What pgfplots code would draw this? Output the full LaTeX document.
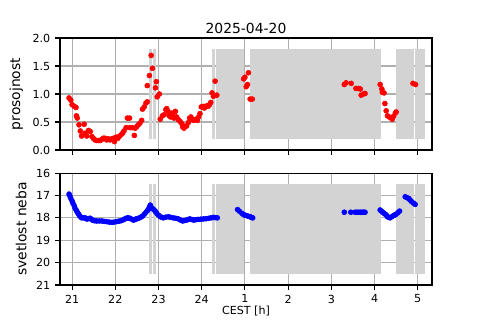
\documentclass[border=0pt]{standalone}
\usepackage{fontspec}
\setmainfont{DejaVu Sans}
\usepackage{pgfplots}
\pgfplotsset{compat=1.18}
\definecolor{mplgrid}{HTML}{B0B0B0}
\definecolor{band}{HTML}{D3D3D3}
\pgfplotsset{
  common/.style={
    scale only axis, width=267.84pt, height=80.6pt,
    xmin=20.72, xmax=29.33,
    xtick={21,22,23,24,25,26,27,28,29},
    grid=major, grid style={color=mplgrid, line width=0.8pt},
    axis line style={line width=0.8pt},
    every tick/.style={black, line width=0.8pt},
    tick align=outside, major tick length=3.5pt,
    xtick pos=bottom, ytick pos=left,
    tick label style={font=\fontsize{8}{9.6}\selectfont},
    label style={font=\fontsize{10}{12}\selectfont},
    /pgf/number format/assume math mode=true,
    axis on top=false,
  },
  bandstyle/.style={fill=band, draw=none, forget plot},
  dots/.style={only marks, mark=*, mark size=1.8pt},
}
\begin{document}
\begin{tikzpicture}
\useasboundingbox (0,0) rectangle (345.6pt,230.4pt);
\begin{axis}[common, at={(43.2pt,122.4pt)}, anchor=south west,
  ymin=0, ymax=2, ytick={0,0.5,1,1.5,2},
  yticklabel style={/pgf/number format/.cd, fixed, fixed zerofill, precision=1},
  xticklabels={},
  ylabel={prosojnost},
  title={2025-04-20}, title style={font=\fontsize{10}{12}\selectfont, yshift=-6.5pt},
]
\addplot[bandstyle] coordinates {(22.78,0.2) (22.84,0.2) (22.84,1.8) (22.78,1.8)} --cycle;
\addplot[bandstyle] coordinates {(22.87,0.2) (22.94,0.2) (22.94,1.8) (22.87,1.8)} --cycle;
\addplot[bandstyle] coordinates {(24.23,0.2) (24.31,0.2) (24.31,1.8) (24.23,1.8)} --cycle;
\addplot[bandstyle] coordinates {(24.34,0.2) (24.98,0.2) (24.98,1.8) (24.34,1.8)} --cycle;
\addplot[bandstyle] coordinates {(25.12,0.2) (28.15,0.2) (28.15,1.8) (25.12,1.8)} --cycle;
\addplot[bandstyle] coordinates {(28.50,0.2) (28.91,0.2) (28.91,1.8) (28.50,1.8)} --cycle;
\addplot[bandstyle] coordinates {(28.94,0.2) (29.17,0.2) (29.17,1.8) (28.94,1.8)} --cycle;
\addplot[dots, color=red] table {
20.93 0.93
20.97 0.89
21.00 0.81
21.05 0.78
21.09 0.76
21.10 0.61
21.12 0.57
21.16 0.45
21.19 0.34
21.22 0.25
21.28 0.46
21.30 0.30
21.34 0.25
21.38 0.35
21.42 0.33
21.46 0.24
21.49 0.21
21.53 0.18
21.57 0.17
21.61 0.17
21.65 0.17
21.69 0.19
21.72 0.21
21.76 0.21
21.80 0.18
21.84 0.20
21.88 0.18
21.92 0.20
21.96 0.21
21.98 0.15
22.02 0.23
22.06 0.21
22.09 0.24
22.13 0.27
22.17 0.30
22.20 0.34
22.25 0.40
22.28 0.57
22.33 0.57
22.34 0.40
22.39 0.40
22.44 0.26
22.46 0.39
22.50 0.42
22.53 0.45
22.57 0.48
22.61 0.53
22.63 0.73
22.67 0.77
22.71 0.84
22.74 0.86
22.74 1.15
22.79 1.33
22.83 1.69
22.86 1.46
22.93 1.11
22.95 1.22
22.97 0.95
23.02 1.00
23.04 0.55
23.09 0.61
23.13 0.63
23.17 0.72
23.19 0.74
23.22 0.69
23.25 0.61
23.28 0.59
23.31 0.66
23.34 0.61
23.36 0.57
23.39 0.69
23.42 0.59
23.46 0.54
23.50 0.51
23.54 0.47
23.56 0.41
23.59 0.39
23.62 0.42
23.65 0.43
23.69 0.49
23.72 0.57
23.75 0.59
23.78 0.55
23.81 0.53
23.84 0.54
23.87 0.55
23.90 0.53
23.93 0.59
23.96 0.65
23.99 0.77
24.03 0.78
24.06 0.75
24.09 0.77
24.12 0.79
24.15 0.78
24.18 0.81
24.21 0.85
24.24 1.02
24.27 0.96
24.31 1.23
24.35 0.98
24.97 1.27
25.00 1.30
25.08 1.38
25.03 1.13
25.06 1.17
25.12 0.91
25.17 0.91
27.30 1.17
27.34 1.20
27.46 1.19
27.57 1.10
27.63 1.10
27.67 1.09
27.69 0.98
27.74 1.00
27.78 1.01
28.13 1.17
28.17 1.09
28.18 1.03
28.22 1.02
28.24 0.83
28.27 0.70
28.30 0.61
28.34 0.59
28.38 0.57
28.41 0.55
28.44 0.60
28.48 0.66
28.50 0.68
28.89 1.19
28.95 1.17
};
\end{axis}
\begin{axis}[common, at={(43.2pt,25.2pt)}, anchor=south west,
  ymin=16, ymax=21, ytick={16,17,18,19,20,21}, y dir=reverse,
  xticklabels={21,22,23,24,1,2,3,4,5},
  ylabel={svetlost neba},
  xlabel={CEST [h]}, xlabel style={font=\fontsize{8}{9.6}\selectfont, yshift=4.5pt},
]
\addplot[bandstyle] coordinates {(22.78,16.5) (22.84,16.5) (22.84,20.5) (22.78,20.5)} --cycle;
\addplot[bandstyle] coordinates {(22.87,16.5) (22.94,16.5) (22.94,20.5) (22.87,20.5)} --cycle;
\addplot[bandstyle] coordinates {(24.23,16.5) (24.31,16.5) (24.31,20.5) (24.23,20.5)} --cycle;
\addplot[bandstyle] coordinates {(24.34,16.5) (24.98,16.5) (24.98,20.5) (24.34,20.5)} --cycle;
\addplot[bandstyle] coordinates {(25.12,16.5) (28.15,16.5) (28.15,20.5) (25.12,20.5)} --cycle;
\addplot[bandstyle] coordinates {(28.50,16.5) (28.91,16.5) (28.91,20.5) (28.50,20.5)} --cycle;
\addplot[bandstyle] coordinates {(28.94,16.5) (29.17,16.5) (29.17,20.5) (28.94,20.5)} --cycle;
\addplot[dots, color=blue] table {
20.93 16.94
20.95 17.03
20.97 17.13
21.00 17.25
21.02 17.35
21.05 17.47
21.07 17.58
21.10 17.67
21.12 17.75
21.15 17.83
21.17 17.90
21.20 17.96
21.22 18.00
21.26 18.00
21.30 18.00
21.33 18.04
21.35 18.05
21.39 18.03
21.42 18.02
21.45 18.07
21.48 18.11
21.52 18.13
21.57 18.14
21.63 18.14
21.69 18.14
21.74 18.16
21.80 18.17
21.86 18.19
21.92 18.20
21.97 18.19
22.03 18.17
22.08 18.15
22.13 18.13
22.17 18.10
22.20 18.07
22.24 18.03
22.28 18.00
22.31 18.01
22.34 18.02
22.38 18.06
22.42 18.10
22.45 18.08
22.48 18.05
22.52 18.03
22.56 18.00
22.60 17.96
22.63 17.92
22.67 17.84
22.71 17.75
22.74 17.68
22.77 17.61
22.79 17.52
22.81 17.43
22.84 17.55
22.87 17.60
22.90 17.65
22.93 17.72
22.96 17.80
23.00 17.88
23.04 17.95
23.08 17.98
23.11 18.00
23.17 17.97
23.23 17.95
23.28 17.98
23.34 18.00
23.40 18.02
23.46 18.05
23.51 18.10
23.56 18.14
23.60 18.12
23.65 18.10
23.69 18.07
23.73 18.05
23.78 18.08
23.82 18.10
23.87 18.08
23.92 18.07
23.98 18.06
24.04 18.05
24.10 18.04
24.16 18.02
24.22 18.00
24.27 17.98
24.32 17.99
24.36 18.00
24.83 17.63
24.87 17.70
24.93 17.80
24.97 17.86
25.00 17.88
25.04 17.90
25.08 17.93
25.12 17.95
25.15 17.98
25.18 18.00
27.30 17.75
27.45 17.75
27.55 17.75
27.59 17.75
27.63 17.75
27.67 17.75
27.71 17.75
27.75 17.75
27.78 17.75
28.13 17.65
28.16 17.70
28.19 17.75
28.22 17.80
28.25 17.84
28.28 17.90
28.30 17.95
28.33 17.98
28.36 18.00
28.40 17.95
28.44 17.90
28.47 17.87
28.50 17.84
28.54 17.77
28.58 17.70
28.71 17.06
28.75 17.10
28.79 17.13
28.82 17.20
28.86 17.28
28.90 17.34
28.94 17.40
};
\end{axis}
\end{tikzpicture}
\end{document}
